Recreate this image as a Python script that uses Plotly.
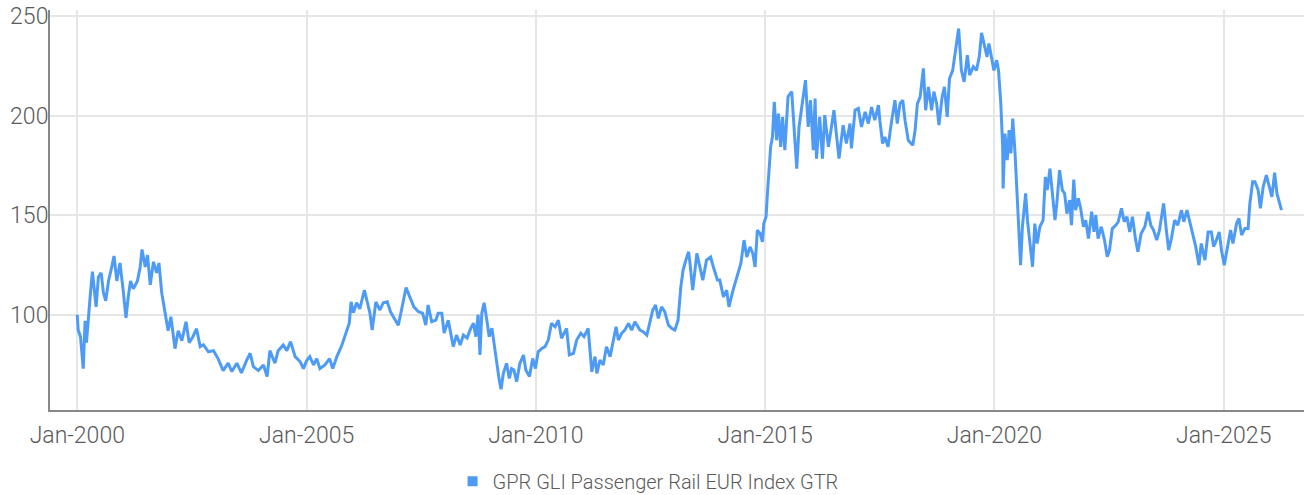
import datetime as dt
import plotly.graph_objects as go

SERIES_NAME = "GPR GLI Passenger Rail EUR Index GTR"

years = [
    2000.00, 2000.02, 2000.07, 2000.13, 2000.17, 2000.20, 2000.28, 2000.33, 2000.41, 2000.46,
    2000.52, 2000.57, 2000.62, 2000.68, 2000.75, 2000.80, 2000.86, 2000.93, 2001.00, 2001.06,
    2001.11, 2001.16, 2001.22, 2001.31, 2001.37, 2001.41, 2001.48, 2001.53, 2001.59, 2001.66,
    2001.73, 2001.78, 2001.84, 2001.91, 2001.98, 2002.04, 2002.13, 2002.20, 2002.28, 2002.37,
    2002.44, 2002.52, 2002.60, 2002.68, 2002.75, 2002.86, 2002.97, 2003.07, 2003.18, 2003.29,
    2003.37, 2003.48, 2003.58, 2003.69, 2003.77, 2003.84, 2003.95, 2004.06, 2004.14,
    2004.20, 2004.31, 2004.38, 2004.49, 2004.57, 2004.65, 2004.75, 2004.86, 2004.93, 2005.00,
    2005.07, 2005.15, 2005.22, 2005.29, 2005.40, 2005.50, 2005.57, 2005.66, 2005.77, 2005.86,
    2005.93, 2005.97, 2006.02, 2006.09, 2006.16, 2006.26, 2006.33, 2006.38, 2006.43, 2006.51,
    2006.60, 2006.67, 2006.76, 2006.83, 2006.91, 2007.00, 2007.07, 2007.17, 2007.25, 2007.34,
    2007.44, 2007.53, 2007.60, 2007.65, 2007.73, 2007.82, 2007.87, 2007.95, 2008.00, 2008.09,
    2008.20, 2008.27, 2008.35, 2008.42, 2008.50, 2008.58, 2008.64, 2008.69, 2008.74, 2008.78,
    2008.82, 2008.87, 2008.93, 2008.98, 2009.04, 2009.11, 2009.16, 2009.20, 2009.24, 2009.29,
    2009.36, 2009.42, 2009.47, 2009.52, 2009.58, 2009.65, 2009.73, 2009.78, 2009.86, 2009.93,
    2009.99, 2010.05, 2010.13, 2010.20, 2010.27, 2010.34, 2010.42, 2010.49, 2010.56, 2010.67,
    2010.73, 2010.82, 2010.89, 2010.98, 2011.05, 2011.14, 2011.22, 2011.29, 2011.33, 2011.40,
    2011.47, 2011.54, 2011.62, 2011.69, 2011.75, 2011.80, 2011.87, 2011.94, 2012.02, 2012.09,
    2012.16, 2012.27, 2012.34, 2012.42, 2012.49, 2012.55, 2012.61, 2012.67, 2012.74, 2012.81,
    2012.89, 2012.96, 2013.03, 2013.10, 2013.16, 2013.21, 2013.27, 2013.33, 2013.36, 2013.42,
    2013.51, 2013.58, 2013.64, 2013.72, 2013.81, 2013.87, 2013.96, 2014.01, 2014.09, 2014.16,
    2014.21, 2014.30, 2014.38, 2014.47, 2014.54, 2014.60, 2014.67, 2014.73, 2014.78, 2014.83,
    2014.89, 2014.94, 2014.97, 2015.02, 2015.05, 2015.08, 2015.12, 2015.16, 2015.20, 2015.25,
    2015.29, 2015.34, 2015.38, 2015.43, 2015.50, 2015.58, 2015.63, 2015.69, 2015.74, 2015.80,
    2015.85, 2015.88, 2015.94, 2015.99, 2016.05, 2016.09, 2016.12, 2016.19, 2016.25, 2016.30,
    2016.38, 2016.45, 2016.50, 2016.56, 2016.61, 2016.70, 2016.77, 2016.85, 2016.88, 2016.96,
    2017.03, 2017.10, 2017.18, 2017.25, 2017.32, 2017.39, 2017.47, 2017.50, 2017.56, 2017.61,
    2017.68, 2017.76, 2017.83, 2017.88, 2017.94, 2018.00, 2018.05, 2018.12, 2018.22, 2018.27,
    2018.32, 2018.38, 2018.45, 2018.50, 2018.56, 2018.63, 2018.68, 2018.74, 2018.79, 2018.86,
    2018.91, 2018.97, 2019.02, 2019.09, 2019.15, 2019.22, 2019.28, 2019.34, 2019.41, 2019.46,
    2019.54, 2019.61, 2019.67, 2019.72, 2019.79, 2019.84, 2019.88, 2019.94, 2019.99, 2020.05,
    2020.09, 2020.14, 2020.18, 2020.19, 2020.23, 2020.28, 2020.32, 2020.36, 2020.40, 2020.45,
    2020.48, 2020.52, 2020.57, 2020.61, 2020.68, 2020.72, 2020.77, 2020.83, 2020.88, 2020.93,
    2020.99, 2021.06, 2021.11, 2021.15, 2021.21, 2021.27, 2021.32, 2021.36, 2021.42, 2021.48,
    2021.53, 2021.58, 2021.64, 2021.68, 2021.73, 2021.77, 2021.83, 2021.88, 2021.94, 2021.99,
    2022.05, 2022.12, 2022.17, 2022.21, 2022.26, 2022.33, 2022.40, 2022.46, 2022.51, 2022.57,
    2022.65, 2022.70, 2022.77, 2022.83, 2022.89, 2022.95, 2023.01, 2023.08, 2023.13, 2023.20,
    2023.28, 2023.35, 2023.41, 2023.47, 2023.54, 2023.60, 2023.69, 2023.75, 2023.80, 2023.86,
    2023.93, 2024.00, 2024.08, 2024.13, 2024.20, 2024.26, 2024.33, 2024.39, 2024.46, 2024.51,
    2024.59, 2024.66, 2024.73, 2024.78, 2024.84, 2024.90, 2024.95, 2025.01, 2025.07, 2025.15,
    2025.20, 2025.28, 2025.33, 2025.39, 2025.46, 2025.53, 2025.57, 2025.63, 2025.68, 2025.75,
    2025.80, 2025.86, 2025.93, 2026.00, 2026.05, 2026.11, 2026.16, 2026.22, 2026.26,
]

values = [
    100.0, 92.3, 89.0, 73.0, 97.0, 86.0, 109.0, 121.6, 104.0, 119.0,
    121.0, 111.0, 107.0, 117.0, 124.0, 129.5, 117.0, 126.0, 112.0, 98.4,
    109.0, 117.0, 113.0, 117.0, 124.0, 132.8, 124.0, 130.0, 115.0, 126.6,
    121.0, 126.0, 111.0, 102.0, 92.0, 99.0, 83.0, 92.0, 87.0, 96.5,
    86.0, 89.0, 93.0, 84.0, 85.0, 81.4, 82.0, 78.0, 72.0, 75.7,
    71.5, 75.7, 70.8, 77.0, 80.7, 74.0, 72.0, 74.8, 69.0,
    82.0, 75.7, 82.0, 84.8, 82.0, 86.5, 79.0, 76.4, 73.0, 77.0,
    79.0, 74.8, 78.0, 73.0, 74.8, 78.0, 73.0, 79.0, 84.8, 90.8,
    95.8, 106.5, 101.0, 106.0, 103.0, 112.4, 106.0, 101.0, 92.3, 106.5,
    102.4, 106.0, 106.5, 101.5, 98.3, 94.8, 102.4, 113.7, 109.0, 104.0,
    101.5, 100.8, 94.8, 104.9, 96.5, 97.3, 100.8, 100.8, 90.8, 97.3,
    84.0, 89.8, 84.8, 89.8, 88.3, 93.3, 95.7, 89.0, 100.0, 79.8,
    100.8, 106.0, 97.3, 89.0, 93.3, 80.8, 74.0, 67.2, 62.6, 70.6,
    75.6, 68.0, 73.0, 72.3, 66.4, 75.6, 79.8, 72.3, 69.0, 78.1,
    73.0, 81.4, 83.1, 84.0, 87.3, 95.7, 94.0, 97.3, 88.2, 93.2,
    79.8, 80.6, 87.3, 90.7, 89.0, 93.2, 71.4, 79.0, 70.6, 77.3,
    74.8, 84.0, 79.0, 87.3, 94.0, 87.3, 90.7, 92.3, 95.7, 92.3,
    96.5, 92.3, 91.5, 89.8, 97.3, 102.4, 104.9, 98.2, 104.0, 101.5,
    94.8, 93.2, 92.3, 97.3, 114.0, 122.4, 127.5, 131.6, 125.8, 112.4,
    130.8, 124.0, 117.4, 127.4, 129.0, 124.0, 117.4, 117.4, 109.0, 112.4,
    104.0, 112.4, 119.0, 125.8, 137.5, 129.0, 134.1, 130.8, 124.0, 142.5,
    140.8, 136.6, 145.8, 149.2, 160.9, 172.6, 184.3, 189.3, 206.9, 187.6,
    201.0, 184.3, 199.3, 182.6, 209.5, 212.0, 194.3, 173.4, 194.3, 204.3,
    212.9, 217.8, 194.3, 207.7, 182.6, 208.6, 178.4, 199.3, 178.4, 200.2,
    184.3, 196.0, 202.7, 189.3, 178.4, 195.2, 186.0, 196.0, 183.5, 202.7,
    203.6, 194.3, 201.9, 196.0, 204.3, 197.7, 205.2, 197.7, 186.0, 189.3,
    184.3, 197.7, 207.7, 196.0, 206.0, 207.7, 197.7, 187.6, 185.1, 192.7,
    206.0, 209.4, 223.7, 202.7, 214.4, 202.7, 212.0, 206.0, 195.2, 209.4,
    214.4, 199.3, 218.6, 222.7, 232.0, 243.7, 222.7, 216.9, 230.3, 220.3,
    224.5, 222.7, 229.5, 241.5, 234.5, 229.5, 236.2, 229.5, 222.7, 227.8,
    222.7, 206.0, 184.3, 163.4, 191.0, 177.6, 192.7, 181.0, 198.5, 181.0,
    165.9, 147.5, 124.9, 144.2, 160.9, 147.5, 137.5, 124.1, 145.8, 135.8,
    144.2, 147.5, 169.2, 162.6, 173.4, 157.6, 147.5, 155.9, 172.6, 162.6,
    160.9, 150.8, 157.6, 145.0, 167.9, 152.5, 158.4, 153.4, 144.2, 147.5,
    138.3, 151.7, 141.6, 150.0, 138.3, 144.2, 137.5, 129.1, 132.5, 143.3,
    145.0, 146.7, 153.4, 146.7, 149.2, 141.6, 149.2, 137.5, 131.6, 140.8,
    144.2, 151.7, 145.0, 142.5, 137.5, 142.5, 155.9, 142.5, 132.5, 138.3,
    147.5, 145.0, 152.5, 146.7, 152.5, 146.7, 140.0, 134.2, 124.9, 135.8,
    127.4, 141.6, 141.6, 134.2, 137.5, 141.6, 132.5, 124.9, 132.5, 142.5,
    135.8, 145.8, 148.4, 140.0, 143.3, 143.3, 155.9, 166.8, 166.8, 162.6,
    153.4, 164.2, 170.1, 164.2, 159.2, 171.3, 160.9, 155.9, 152.5,
]

y_ticks = [100, 150, 200, 250]


def to_date(yf):
    y = int(yf)
    start = dt.datetime(y, 1, 1)
    end = dt.datetime(y + 1, 1, 1)
    return start + (end - start) * (yf - y)


dates = [to_date(v) for v in years]

LINE_COLOR = "#4e9bf6"
FONT = "Roboto, sans-serif"
TEXT_COLOR = "#5a5a5a"

fig = go.Figure()
fig.add_trace(go.Scatter(
    x=dates, y=values, mode="lines",
    line=dict(color=LINE_COLOR, width=3),
    name=SERIES_NAME, showlegend=False,
))
# legend entry with a square swatch
fig.add_trace(go.Scatter(
    x=[None], y=[None], mode="markers",
    marker=dict(symbol="square", size=10, color=LINE_COLOR),
    name=SERIES_NAME, showlegend=True,
))

fig.update_layout(
    width=1304, height=495,
    margin=dict(l=50, r=0, t=10, b=85, pad=0),
    paper_bgcolor="white", plot_bgcolor="white",
    font=dict(family=FONT, size=23, color=TEXT_COLOR, weight=300),
    legend=dict(
        orientation="h", xref="container", yref="container",
        x=0.497, xanchor="center", y=0.028, yanchor="middle",
        font=dict(family=FONT, size=20, color=TEXT_COLOR, weight=300),
        itemwidth=30, bgcolor="rgba(0,0,0,0)",
    ),
)

fig.update_xaxes(
    type="date",
    range=[to_date(1999.405), to_date(2026.751)],
    tick0="2000-01-01", dtick="M60", tickformat="%b-%Y",
    showgrid=True, gridcolor="#e6e6e6", gridwidth=2,
    showline=True, linecolor="#888888", linewidth=2,
    ticks="", zeroline=False, automargin=False,
    ticklabelstandoff=3,
    tickfont=dict(family=FONT, size=23, color=TEXT_COLOR, weight=300),
)
fig.update_yaxes(
    range=[52.2, 253],
    tickvals=y_ticks,
    showgrid=True, gridcolor="#e6e6e6", gridwidth=2,
    showline=True, linecolor="#888888", linewidth=2,
    ticks="", zeroline=False, automargin=False,
    ticklabelstandoff=-5,
    tickfont=dict(family=FONT, size=23, color=TEXT_COLOR, weight=300),
)

fig.write_html(
    "out.html",
    config={"displayModeBar": False},
    post_script="document.body.style.margin='0';document.body.style.overflow='hidden';",
)
